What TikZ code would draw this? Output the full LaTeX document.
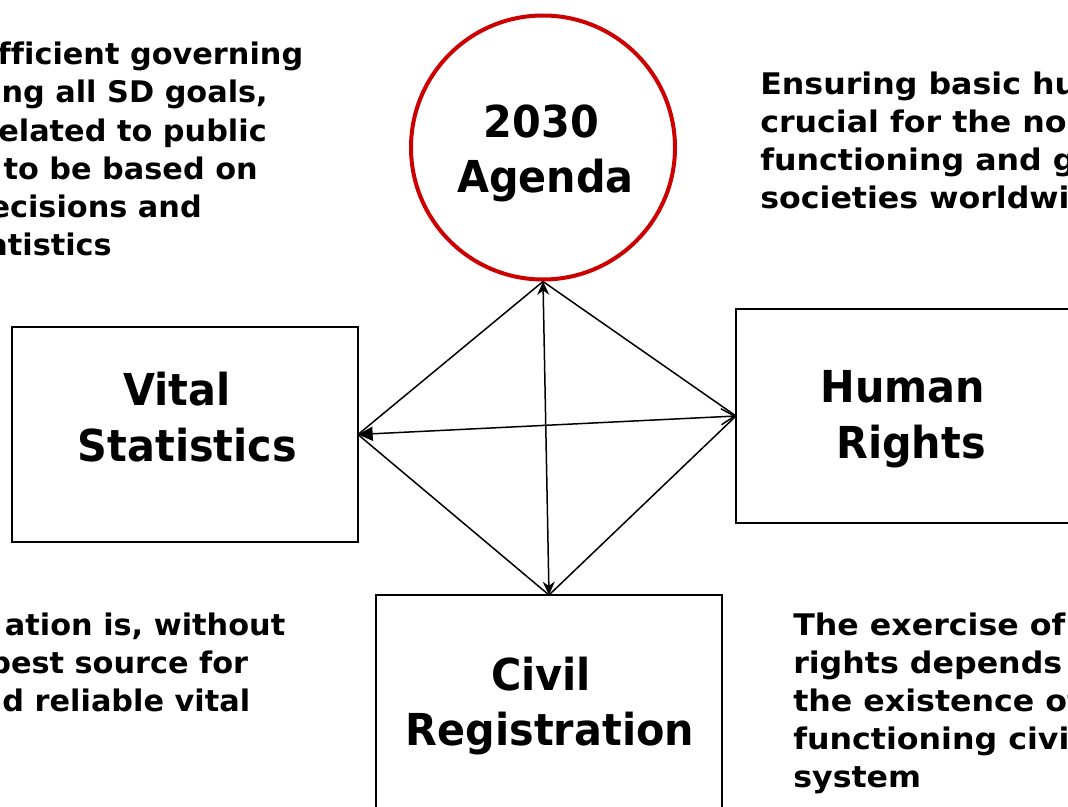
\documentclass[tikz,border=0pt]{standalone}
\usepackage{fontspec}
\setmainfont{DejaVu Sans}[BoldFont=DejaVu Sans Bold]
\newfontfamily\bigf{DejaVu Sans Bold}[FakeStretch=0.94]
\newfontfamily\smallf{DejaVu Sans Bold}[FakeStretch=1.065, Ligatures=NoCommon]
\newfontfamily\smallleft{DejaVu Sans Bold}[FakeStretch=1.02, Ligatures=NoCommon]
\usetikzlibrary{arrows.meta}
\definecolor{agred}{RGB}{204,0,0}
\tikzset{
  box/.style={draw, rectangle, line width=1.2pt, outer sep=0pt, inner sep=0pt, minimum width=259.5pt, minimum height=161.25pt},
  big/.style={font=\bigf\fontsize{33}{40}\selectfont, inner sep=0pt, anchor=base},
  small/.style={font=\smallf\fontsize{22.3}{28}\selectfont, inner sep=0pt, anchor=base west},
  smallL/.style={font=\smallleft\fontsize{22.3}{28}\selectfont, inner sep=0pt, anchor=base east},
  link/.style={line width=1.125pt},
}
\begin{document}
\begin{tikzpicture}[x=0.75pt, y=-0.75pt]
\useasboundingbox (0,0) rectangle (1068,807);
\clip (0,0) rectangle (1068,807);
\fill[white] (0,0) rectangle (1068,807);
% main shapes
\node[circle, draw=agred, line width=3pt, minimum size=198pt, inner sep=0pt] (ag) at (543,147.5) {};
\node[box, minimum width=259.5pt] (vs) at (185,434.5) {};
\node[box, minimum width=250.5pt, minimum height=160.5pt] (hr) at (903,416) {};
\node[box] (cr) at (549,702.5) {};
% titles
\node[big] (ag1) at (541.5,137) {2030};
\node[big] (ag2) at (545.5,192) {Agenda};
\node[big] (vs1) at (177,405) {Vital};
\node[big] (vs2) at (187.5,461.5) {Statistics};
\node[big] (hr1) at (903,402) {Human};
\node[big] (hr2) at (911,458) {Rights};
\node[big] (cr1) at (541,690) {Civil};
\node[big] (cr2) at (550,745) {Registration};
% top-left text
\node[smallL] (tl1) at (303.5,64.5) {fficient governing};
\node[smallL] (tl2) at (268,102.5) {ng all SD goals,};
\node[smallL] (tl3) at (267,141) {elated to public};
\node[smallL] (tl4) at (258,179) {to be based on};
\node[smallL] (tl5) at (202,217) {ecisions and};
\node[smallL] (tl6) at (112,255) {atistics};
% top-right text
\node[small] (tr1) at (760,94.5) {Ensuring basic hu};
\node[small] (tr2) at (760,132.5) {crucial for the nor};
\node[small] (tr3) at (760,170.5) {functioning and g};
\node[small] (tr4) at (760,208.5) {societies worldwi};
% bottom-left text
\node[smallL] (bl1) at (285.5,635) {ation is, without};
\node[smallL] (bl2) at (248.5,673) {best source for};
\node[smallL] (bl3) at (250.5,711) {d reliable vital};
% bottom-right text
\node[small] (br1) at (793,635) {The exercise of};
\node[small] (br2) at (793,673) {rights depends};
\node[small] (br3) at (793,711) {the existence of};
\node[small] (br4) at (793,749) {functioning civil};
\node[small] (br5) at (793,787) {system};
% connectors
\draw[link] (ag.south) -- (vs.east);
\draw[link] (ag.south) -- (hr.west);
\draw[link] (vs.east) -- (cr.north);
\draw[link] (hr.west) -- (cr.north);
\draw[link, {Stealth[length=10pt,width=9pt]}-{Stealth[length=10pt,width=9pt]}] (ag.south) -- (cr.north);
\draw[link, {Triangle[length=11pt,width=10.5pt]}-{Straight Barb[length=10pt,width=12pt]}] (vs.east) -- (hr.west);
\end{tikzpicture}
\end{document}
